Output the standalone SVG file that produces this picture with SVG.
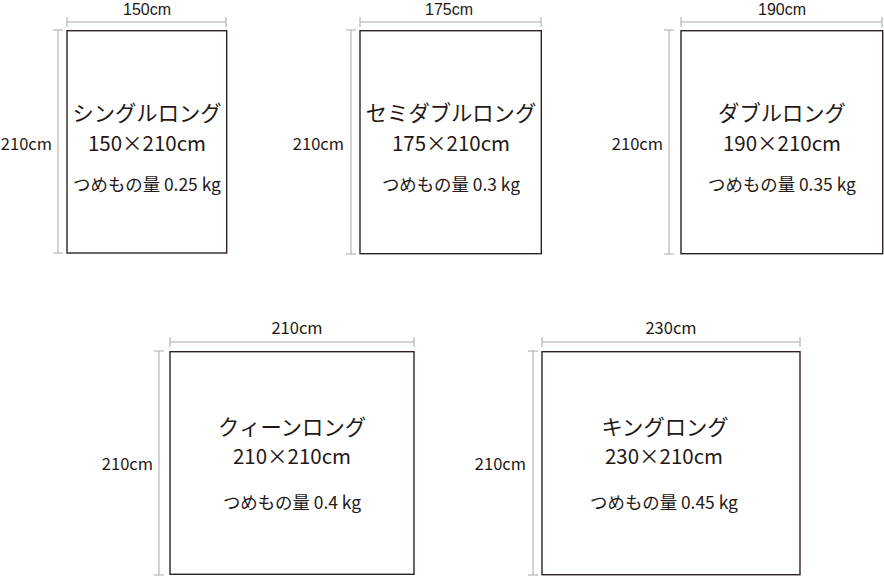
<svg xmlns="http://www.w3.org/2000/svg" width="884" height="576" viewBox="0 0 884 576">
<style>
.box{fill:#fff;stroke:#2e2222;stroke-width:1.4}
.dim{stroke:#a8a8a8;stroke-width:1;fill:none}
.t{font-family:"Noto Sans CJK JP","Noto Sans",sans-serif;fill:#231815;text-anchor:middle}
.dl{font-size:16.5px}
.dt{font-family:"Liberation Sans",Arial,sans-serif;font-size:16px}
.dr{font-size:16.5px;text-anchor:end}
.title{font-size:21.3px}
.size{font-size:20.5px}
.amt{font-size:17.4px}
</style>
<rect width="884" height="576" fill="#fff"/>
<g id="connectors">
<path class="dim" d="M67 22H226M67 17V27M226 17V27M58 30V253M53 30H63M53 253H63"/>
<path class="dim" d="M360 22H541M360 17V27M541 17V27M351 30V254M346 30H356M346 254H356"/>
<path class="dim" d="M681 22H882M681 17V27M882 17V27M669 30V254M664 30H674M664 254H674"/>
<path class="dim" d="M170 342H414M170 337V347M414 337V347M159 351V575M154 351H164M154 575H164"/>
<path class="dim" d="M542 342H800M542 337V347M800 337V347M533 351V575M528 351H538M528 575H538"/>
</g>
<g id="single">
<rect class="box" x="67" y="30.7" width="159.7" height="222.3"/>
<text class="t dt" x="147" y="15">150cm</text>
<text class="t dr" x="52" y="150">210cm</text>
<text class="t title" x="147" y="121">シングルロング</text>
<text class="t size" x="147" y="151">150×210cm</text>
<text class="t amt" x="147" y="191">つめもの量 0.25 kg</text>
</g>
<g id="semidouble">
<rect class="box" x="360" y="30.7" width="181.3" height="223"/>
<text class="t dt" x="449" y="15">175cm</text>
<text class="t dr" x="344" y="150">210cm</text>
<text class="t title" x="451" y="121">セミダブルロング</text>
<text class="t size" x="451" y="151">175×210cm</text>
<text class="t amt" x="451" y="191">つめもの量 0.3 kg</text>
</g>
<g id="double">
<rect class="box" x="681" y="30.7" width="201.7" height="223"/>
<text class="t dt" x="782" y="15">190cm</text>
<text class="t dr" x="663" y="150">210cm</text>
<text class="t title" x="782" y="121">ダブルロング</text>
<text class="t size" x="782" y="151">190×210cm</text>
<text class="t amt" x="782" y="191">つめもの量 0.35 kg</text>
</g>
<g id="queen">
<rect class="box" x="170" y="351.7" width="244" height="222.6"/>
<text class="t dl" x="297" y="334">210cm</text>
<text class="t dr" x="153" y="470">210cm</text>
<text class="t title" x="292" y="435">クィーンロング</text>
<text class="t size" x="292" y="464">210×210cm</text>
<text class="t amt" x="292" y="509">つめもの量 0.4 kg</text>
</g>
<g id="king">
<rect class="box" x="542" y="351.7" width="258" height="223"/>
<text class="t dl" x="671" y="334">230cm</text>
<text class="t dr" x="526" y="470">210cm</text>
<text class="t title" x="665" y="435">キングロング</text>
<text class="t size" x="664" y="464">230×210cm</text>
<text class="t amt" x="664" y="509">つめもの量 0.45 kg</text>
</g>
</svg>
